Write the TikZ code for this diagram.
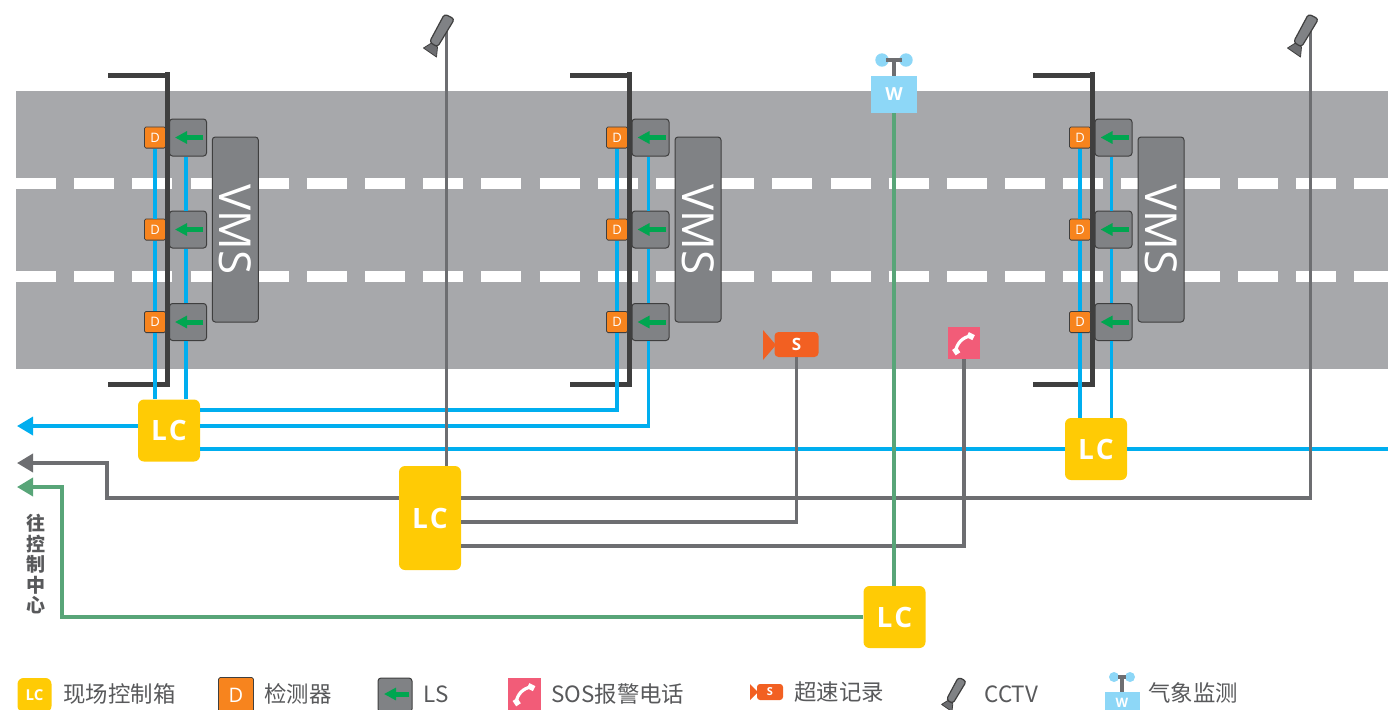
\documentclass[tikz,border=0pt]{standalone}
\usepackage{fontspec}
\usepackage{xcolor}
\setmainfont{Noto Sans CJK SC}
\newfontfamily\boxfont{Open Sans}
\usetikzlibrary{arrows.meta}
\definecolor{roadgray}{HTML}{A7A8AB}
\definecolor{polegray}{HTML}{3F3F3F}
\definecolor{lsgray}{HTML}{808285}
\definecolor{linegray}{HTML}{6D6E71}
\definecolor{textgray}{HTML}{58595B}
\definecolor{lineblue}{HTML}{00AEEF}
\definecolor{linegreen}{HTML}{58A578}
\definecolor{arrowgreen}{HTML}{00A650}
\definecolor{lcyellow}{HTML}{FFCB05}
\definecolor{dorange}{HTML}{F7841E}
\definecolor{speedorange}{HTML}{F26022}
\definecolor{sospink}{HTML}{F25C78}
\definecolor{wblue}{HTML}{8DD7F7}
\newcommand{\cctvcam}[3]{
  \begin{scope}[shift={(#1,#2)},scale=#3]
    \draw [polegray,fill=linegray,line width=0.4pt,line join=round] (-23,-18) -- (-15,-13) -- (-9,-17) -- (-10,-27) -- cycle;
    \draw [polegray,fill=lsgray,line width=0.6pt,rounded corners=1.5pt] (-2,16) -- (8,11) -- (-9,-17) -- (-17,-12) -- cycle;
  \end{scope}
}
\newcommand{\sosphone}[2]{
  \begin{scope}[shift={(#1,#2)},scale=1.2]
    \draw [white,line width=1.6pt] (-7,-7) .. controls (-6,0) and (-1,5) .. (6,6);
    \draw [white,line width=2.8pt] (-8,-4.5) -- (-5,-9);
    \draw [white,line width=2.8pt] (3,7) -- (8,4.5);
  \end{scope}
}
\newcommand{\windvane}[4]{
  \fill [wblue] (#1-#4,#2) circle (#3);
  \fill [wblue] (#1+#4,#2) circle (#3);
  \draw [linegray,line width=1.6pt] (#1-#4+4,#2) -- (#1+#4-4,#2);
  \draw [linegray,line width=1.8pt] (#1,#2) -- (#1,#2-16);
}
\begin{document}
\begin{tikzpicture}[x=0.5pt,y=0.5pt]
        \tikzstyle{every node}+=[inner sep=0pt]
        \tikzstyle{lcbox}=[fill=lcyellow,rounded corners=3pt,minimum width=31pt,minimum height=31pt,text=white,font=\boxfont\bfseries\fontsize{14}{14}\selectfont]
        \tikzstyle{dbox}=[draw=polegray,fill=dorange,line width=0.4pt,rounded corners=0.8pt,minimum width=10.6pt,minimum height=10.6pt,text=white,font=\boxfont\fontsize{6.5}{7}\selectfont]
        \tikzstyle{lsbox}=[draw=polegray,fill=lsgray,line width=0.5pt,rounded corners=1.5pt,minimum width=18.5pt,minimum height=18.5pt]
        \tikzstyle{vmsbox}=[draw=polegray,fill=lsgray,line width=0.5pt,rounded corners=1.5pt,minimum width=23pt,minimum height=92.5pt,text=white]
        \tikzstyle{legendtext}=[anchor=west,text=textgray,font=\fontsize{11.2}{12}\selectfont]
        \tikzstyle{lsarrow}=[arrowgreen,line width=2.5pt,-{Triangle[length=6pt,width=6pt]}]
        \tikzstyle{blueline}=[lineblue,line width=1.7pt]
        \tikzstyle{grayline}=[linegray,line width=1.8pt]
        \tikzstyle{greenline}=[linegreen,line width=1.8pt]
        \tikzstyle{tip}=[{Triangle[length=8pt,width=9pt]}-]
        \tikzstyle{signpost}=[polegray,line width=2.5pt]
        \useasboundingbox (0,0) rectangle (1388,-709);
        \fill [roadgray] (16,-91) rectangle (1388,-369);
        \draw [white,line width=5.5pt,dash pattern=on 20pt off 9.09pt] (16,-183.5) -- (1388,-183.5);
        \draw [white,line width=5.5pt,dash pattern=on 20pt off 9.09pt] (16,-276.5) -- (1388,-276.5);
        \draw [signpost] (108,-75) -- (170,-75);
        \draw [signpost] (167.5,-72) -- (167.5,-386);
        \draw [signpost] (108,-384) -- (170,-384);
        \draw [signpost] (570,-75) -- (632,-75);
        \draw [signpost] (629.5,-72) -- (629.5,-386);
        \draw [signpost] (570,-384) -- (632,-384);
        \draw [signpost] (1033,-75) -- (1095,-75);
        \draw [signpost] (1092.5,-72) -- (1092.5,-386);
        \draw [signpost] (1033,-384) -- (1095,-384);
        \node [dbox] (d11) at (155,-137.5) {D};
        \node [dbox] (d12) at (155,-229.5) {D};
        \node [dbox] (d13) at (155,-322) {D};
        \node [dbox] (d21) at (617,-137.5) {D};
        \node [dbox] (d22) at (617,-229.5) {D};
        \node [dbox] (d23) at (617,-322) {D};
        \node [dbox] (d31) at (1080,-137.5) {D};
        \node [dbox] (d32) at (1080,-229.5) {D};
        \node [dbox] (d33) at (1080,-322) {D};
        \node [lsbox] (ls11) at (188,-137.5) {};
        \node [lsbox] (ls12) at (188,-229.5) {};
        \node [lsbox] (ls13) at (188,-322) {};
        \node [lsbox] (ls21) at (650.5,-137.5) {};
        \node [lsbox] (ls22) at (650.5,-229.5) {};
        \node [lsbox] (ls23) at (650.5,-322) {};
        \node [lsbox] (ls31) at (1113.5,-137.5) {};
        \node [lsbox] (ls32) at (1113.5,-229.5) {};
        \node [lsbox] (ls33) at (1113.5,-322) {};
        \draw [lsarrow] (203,-137.5) -- (175,-137.5);
        \draw [lsarrow] (203,-229.5) -- (175,-229.5);
        \draw [lsarrow] (203,-322) -- (175,-322);
        \draw [lsarrow] (665.5,-137.5) -- (637.5,-137.5);
        \draw [lsarrow] (665.5,-229.5) -- (637.5,-229.5);
        \draw [lsarrow] (665.5,-322) -- (637.5,-322);
        \draw [lsarrow] (1128.5,-137.5) -- (1100.5,-137.5);
        \draw [lsarrow] (1128.5,-229.5) -- (1100.5,-229.5);
        \draw [lsarrow] (1128.5,-322) -- (1100.5,-322);
        \node [vmsbox] (vms1) at (235.3,-229.5) {\rotatebox{-90}{\boxfont\fontsize{22}{22}\selectfont VMS}};
        \node [vmsbox] (vms2) at (698,-229.5) {\rotatebox{-90}{\boxfont\fontsize{22}{22}\selectfont VMS}};
        \node [vmsbox] (vms3) at (1161,-229.5) {\rotatebox{-90}{\boxfont\fontsize{22}{22}\selectfont VMS}};
        \node [lcbox] (lc1) at (169,-430.5) {L\kern1pt C};
        \node [lcbox,minimum height=52pt] (lc2) at (430,-518) {L\kern1pt C};
        \node [lcbox] (lc3) at (1096,-449) {L\kern1pt C};
        \node [lcbox] (lc4) at (894.5,-617) {L\kern1pt C};
        \fill [speedorange] (763,-330) -- (776,-345) -- (763,-360) -- cycle;
        \node [fill=speedorange,rounded corners=2pt,minimum width=22pt,minimum height=12.5pt,text=white,font=\boxfont\bfseries\fontsize{8.5}{9}\selectfont] (speed) at (796.5,-344.5) {S};
        \node [fill=sospink,minimum width=16pt,minimum height=16pt] (sos) at (964,-343) {};
        \sosphone{964}{-343}
        \windvane{894}{-60}{6.7}{12}
        \node [fill=wblue,minimum width=23pt,minimum height=18.5pt,text=white,font=\boxfont\bfseries\fontsize{9}{9}\selectfont] (wbox) at (894,-94.5) {W};
        \coordinate (tipblue) at (17,-426);
        \coordinate (tipgray) at (17,-463);
        \coordinate (tipgreen) at (17,-487);
        \coordinate (turngray) at (107,-498);
        \coordinate (turngreen) at (62,-617);
        \coordinate (cam1) at (446.5,-30);
        \coordinate (cam2) at (1310.5,-30);
        \coordinate (roadend) at (1388,-449);
        \draw [blueline] (d11) -- (d12);
        \draw [blueline] (d12) -- (d13);
        \draw [blueline] (d13) -- (d13 |- lc1.north);
        \draw [blueline] ([xshift=-1pt]ls11.south) -- ([xshift=-1pt]ls12.north);
        \draw [blueline] ([xshift=-1pt]ls12.south) -- ([xshift=-1pt]ls13.north);
        \draw [blueline] ([xshift=-1pt]ls13.south) -- ([xshift=-1pt]ls13.south |- lc1.north);
        \draw [blueline] (d21) -- (d22);
        \draw [blueline] (d22) -- (d23);
        \draw [blueline] (d23.south) |- ([yshift=10.25pt]lc1.east);
        \draw [blueline] ([xshift=-1pt]ls21.south) -- ([xshift=-1pt]ls22.north);
        \draw [blueline] ([xshift=-1pt]ls22.south) -- ([xshift=-1pt]ls23.north);
        \draw [blueline] ([xshift=-1pt]ls23.south) |- ([yshift=2.25pt]lc1.east);
        \draw [blueline] (d31) -- (d32);
        \draw [blueline] (d32) -- (d33);
        \draw [blueline] (d33) -- (d33 |- lc3.north);
        \draw [blueline] ([xshift=-1pt]ls31.south) -- ([xshift=-1pt]ls32.north);
        \draw [blueline] ([xshift=-1pt]ls32.south) -- ([xshift=-1pt]ls33.north);
        \draw [blueline] ([xshift=-1pt]ls33.south) -- ([xshift=-1pt]ls33.south |- lc3.north);
        \draw [blueline,tip] (tipblue) -- (lc1.west |- tipblue);
        \draw [blueline] (lc1.east |- lc3.west) -- (lc3.west);
        \draw [blueline] (lc3.east) -- (roadend);
        \draw [grayline,tip] (tipgray) -| (turngray) -- (lc2.west |- turngray);
        \draw [grayline] (lc2.east |- turngray) -| (cam2);
        \draw [grayline] (lc2.north -| cam1) -- (cam1);
        \draw [grayline] ([yshift=-2pt]lc2.east) -| (speed.south);
        \draw [grayline] ([yshift=-14pt]lc2.east) -| (sos.south);
        \draw [greenline,tip] (tipgreen) -| (turngreen) -- (lc4.west);
        \draw [greenline] (wbox.south |- lc4.north) -- (wbox.south);
        \cctvcam{446.5}{-30}{1}
        \cctvcam{1310.5}{-30}{1}
        \node [align=center,text=textgray,font=\bfseries\fontsize{9.5}{10.25}\selectfont] (toctrl) at (36,-564.5) {往\\控\\制\\中\\心};
        \node [lcbox,minimum width=17pt,minimum height=17pt,font=\boxfont\bfseries\fontsize{7.5}{8}\selectfont] (keylc) at (34.5,-695) {LC};
        \node [legendtext] (keylctext) at (63,-694) {现场控制箱};
        \node [dbox,minimum width=17.5pt,minimum height=17.5pt,font=\boxfont\fontsize{10}{11}\selectfont] (keyd) at (236,-695) {D};
        \node [legendtext] (keydtext) at (264,-694) {检测器};
        \node [lsbox,minimum width=17pt,minimum height=17pt] (keyls) at (395,-695) {};
        \draw [lsarrow] (409,-694) -- (384,-694);
        \node [legendtext] (keylstext) at (423,-694) {LS};
        \node [fill=sospink,minimum width=16.5pt,minimum height=16.5pt] (keysos) at (524.5,-694) {};
        \sosphone{524.5}{-694}
        \node [legendtext] (keysostext) at (551,-694) {SOS报警电话};
        \fill [speedorange] (750,-684) -- (758,-692) -- (750,-700) -- cycle;
        \node [fill=speedorange,rounded corners=1.5pt,minimum width=13pt,minimum height=8pt,text=white,font=\boxfont\bfseries\fontsize{5.5}{6}\selectfont] (keyspeed) at (770,-692) {S};
        \node [legendtext] (keyspeedtext) at (794,-692) {超速记录};
        \cctvcam{960}{-690}{0.8}
        \node [legendtext] (keycctvtext) at (984,-694) {CCTV};
        \windvane{1122}{-677}{5}{8}
        \node [fill=wblue,minimum width=17.5pt,minimum height=10.5pt,text=white,font=\boxfont\bfseries\fontsize{6.5}{7}\selectfont] (keyw) at (1122,-702.5) {W};
        \node [legendtext] (keywtext) at (1148,-693) {气象监测};
\end{tikzpicture}
\end{document}
